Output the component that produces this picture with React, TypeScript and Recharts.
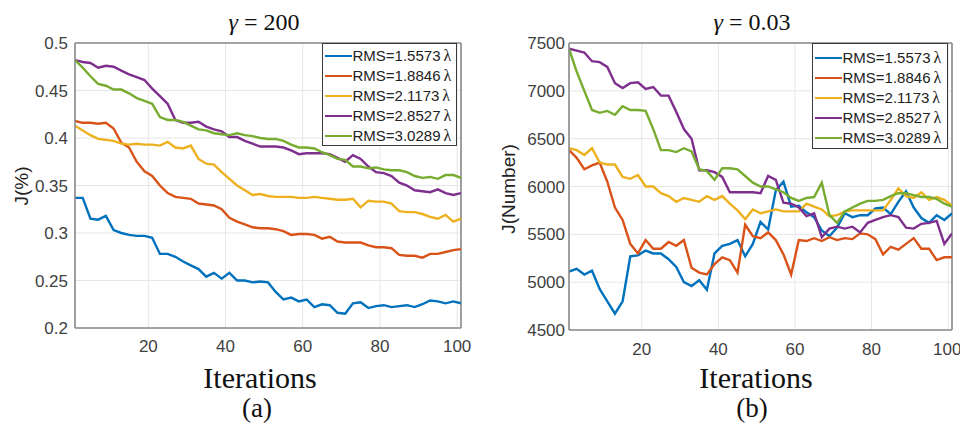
import React from 'react';
import { LineChart, Line, XAxis, YAxis, CartesianGrid, ReferenceLine, Legend } from 'recharts';

// ---- shared ----
const iterations = [1, 3, 5, 7, 9, 11, 13, 15, 17, 19, 21, 23, 25, 27, 29, 31, 33, 35, 37, 39, 41, 43, 45, 47, 49, 51, 53, 55, 57, 59, 61, 63, 65, 67, 69, 71, 73, 75, 77, 79, 81, 83, 85, 87, 89, 91, 93, 95, 97, 99, 101];
const xTicks = [20, 40, 60, 80, 100];
const seriesNames = ['RMS=1.5573', 'RMS=1.8846', 'RMS=2.1173', 'RMS=2.8527', 'RMS=3.0289'];
const seriesColors = ['#0072BD', '#D95319', '#EDB120', '#7E2F8E', '#77AC30'];

// ---- (a) gamma = 200, J(%) ----
const aTicks = [0.2, 0.25, 0.3, 0.35, 0.4, 0.45, 0.5];
const aRms1 = [0.337, 0.337, 0.315, 0.314, 0.318, 0.303, 0.300, 0.298, 0.297, 0.297, 0.295, 0.278, 0.278, 0.275, 0.270, 0.266, 0.262, 0.254, 0.258, 0.252, 0.258, 0.250, 0.250, 0.248, 0.249, 0.248, 0.238, 0.230, 0.232, 0.228, 0.230, 0.222, 0.225, 0.224, 0.216, 0.215, 0.226, 0.227, 0.221, 0.223, 0.224, 0.222, 0.223, 0.224, 0.222, 0.225, 0.229, 0.228, 0.226, 0.228, 0.226];
const aRms2 = [0.418, 0.416, 0.416, 0.415, 0.416, 0.410, 0.395, 0.390, 0.375, 0.365, 0.360, 0.350, 0.342, 0.338, 0.337, 0.336, 0.331, 0.330, 0.329, 0.325, 0.316, 0.312, 0.309, 0.306, 0.305, 0.305, 0.304, 0.302, 0.298, 0.299, 0.299, 0.298, 0.294, 0.296, 0.291, 0.290, 0.290, 0.290, 0.287, 0.285, 0.285, 0.284, 0.277, 0.276, 0.276, 0.274, 0.278, 0.278, 0.280, 0.282, 0.283];
const aRms3 = [0.413, 0.408, 0.403, 0.399, 0.398, 0.397, 0.394, 0.393, 0.394, 0.393, 0.393, 0.392, 0.396, 0.390, 0.389, 0.392, 0.378, 0.373, 0.372, 0.364, 0.357, 0.350, 0.345, 0.340, 0.341, 0.339, 0.338, 0.338, 0.338, 0.337, 0.337, 0.338, 0.337, 0.336, 0.335, 0.335, 0.336, 0.327, 0.334, 0.333, 0.333, 0.331, 0.323, 0.322, 0.322, 0.320, 0.317, 0.315, 0.319, 0.312, 0.315];
const aRms4 = [0.482, 0.480, 0.479, 0.474, 0.476, 0.475, 0.471, 0.467, 0.464, 0.461, 0.452, 0.444, 0.436, 0.419, 0.416, 0.416, 0.417, 0.412, 0.409, 0.407, 0.401, 0.401, 0.397, 0.394, 0.391, 0.391, 0.391, 0.390, 0.387, 0.383, 0.384, 0.384, 0.384, 0.383, 0.379, 0.375, 0.382, 0.378, 0.370, 0.364, 0.363, 0.360, 0.353, 0.350, 0.345, 0.344, 0.343, 0.346, 0.342, 0.340, 0.342];
const aRms5 = [0.482, 0.474, 0.465, 0.457, 0.455, 0.451, 0.451, 0.447, 0.442, 0.439, 0.436, 0.422, 0.419, 0.419, 0.417, 0.413, 0.409, 0.408, 0.405, 0.404, 0.403, 0.405, 0.403, 0.402, 0.400, 0.399, 0.399, 0.397, 0.393, 0.390, 0.390, 0.389, 0.385, 0.382, 0.378, 0.377, 0.370, 0.370, 0.368, 0.369, 0.367, 0.366, 0.366, 0.364, 0.360, 0.358, 0.359, 0.357, 0.361, 0.361, 0.358];

// ---- (b) gamma = 0.03, J(Number) ----
const bTicks = [4500, 5000, 5500, 6000, 6500, 7000, 7500];
const bRms1 = [5110, 5140, 5080, 5120, 4930, 4800, 4670, 4800, 5270, 5280, 5330, 5300, 5300, 5240, 5160, 5000, 4960, 5020, 4920, 5300, 5380, 5400, 5440, 5270, 5400, 5630, 5550, 5960, 6050, 5790, 5800, 5730, 5680, 5540, 5480, 5570, 5720, 5680, 5700, 5700, 5770, 5780, 5710, 5840, 5950, 5780, 5670, 5620, 5700, 5650, 5720];
const bRms2 = [6380, 6300, 6180, 6220, 6250, 6050, 5780, 5650, 5400, 5300, 5440, 5350, 5350, 5420, 5380, 5440, 5150, 5100, 5080, 5190, 5260, 5230, 5100, 5600, 5480, 5460, 5520, 5440, 5290, 5080, 5440, 5430, 5460, 5430, 5470, 5440, 5460, 5450, 5510, 5500, 5450, 5290, 5370, 5340, 5400, 5460, 5350, 5350, 5230, 5260, 5260];
const bRms3 = [6400, 6380, 6330, 6400, 6250, 6230, 6230, 6100, 6080, 6120, 6000, 6000, 5930, 5900, 5840, 5880, 5860, 5840, 5900, 5860, 5900, 5820, 5750, 5660, 5760, 5720, 5740, 5760, 5740, 5740, 5740, 5820, 5790, 5760, 5690, 5700, 5740, 5750, 5750, 5750, 5750, 5750, 5860, 5980, 5900, 5880, 5940, 5860, 5890, 5860, 5800];
const bRms4 = [7440, 7420, 7400, 7310, 7300, 7250, 7080, 7030, 7080, 7090, 7020, 7040, 6950, 6950, 6780, 6600, 6500, 6170, 6170, 6150, 6100, 5940, 5940, 5940, 5940, 5930, 6110, 6070, 5830, 5820, 5780, 5690, 5720, 5470, 5560, 5580, 5560, 5580, 5520, 5620, 5650, 5680, 5700, 5680, 5570, 5560, 5610, 5620, 5640, 5400, 5510];
const bRms5 = [7440, 7200, 7000, 6800, 6770, 6790, 6750, 6840, 6800, 6800, 6790, 6600, 6380, 6380, 6360, 6400, 6366, 6180, 6160, 6070, 6190, 6190, 6180, 6110, 6040, 6000, 6000, 5970, 5940, 5880, 5850, 5880, 5890, 6040, 5700, 5620, 5740, 5780, 5820, 5850, 5850, 5860, 5900, 5930, 5930, 5910, 5890, 5890, 5870, 5820, 5790];

const buildRows = (series: number[][]) =>
  iterations.map((it, i) => {
    const row: Record<string, number> = { it };
    series.forEach((s, k) => {
      row['s' + k] = s[i];
    });
    return row;
  });

const rowsA = buildRows([aRms1, aRms2, aRms3, aRms4, aRms5]);
const rowsB = buildRows([bRms1, bRms2, bRms3, bRms4, bRms5]);

const SANS = "'Liberation Sans', Arial, sans-serif";
const SERIF = "'Liberation Serif', 'Times New Roman', serif";
const FRAME = '#8a8a8a';

const LegendBox = ({ w, h, padTop }: { w: number; h: number; padTop: number }) => (
  <div
    style={{
      width: w,
      height: h,
      boxSizing: 'border-box',
      border: '1.5px solid #3a3a3a',
      background: '#fff',
      paddingTop: padTop,
    }}
  >
    {seriesNames.map((n, i) => (
      <div key={n} style={{ display: 'flex', alignItems: 'center', height: 20 }}>
        <div style={{ width: 27, height: 2.4, background: seriesColors[i], marginLeft: 1.5 }} />
        <span style={{ marginLeft: 1, fontFamily: SANS, fontSize: 15, color: '#222', whiteSpace: 'nowrap', lineHeight: '20px' }}>
          {n}
          <span style={{ fontFamily: SERIF, fontSize: 16, marginLeft: 3 }}>λ</span>
        </span>
      </div>
    ))}
  </div>
);

type PanelProps = {
  left: number;
  rows: Record<string, number>[];
  yDomain: [number, number];
  yTicks: number[];
  yW: number;
  rightMargin: number;
  xH: number;
  yTickMargin: number;
  xTickMargin: number;
  title: string;
  titleX: number;
  xLabelX: number;
  sub: string;
  subX: number;
  yLabel: string;
  yLabelX: number;
  yLabelY: number;
  yLabelSize: number;
  legend: { x: number; y: number; w: number; h: number; padTop: number };
};

const Panel = (p: PanelProps) => (
  <div style={{ position: 'absolute', left: p.left, top: 0, width: 480, height: 429 }}>
    <LineChart width={480} height={429} data={p.rows} margin={{ top: 43, right: p.rightMargin, bottom: 0, left: 0 }}>
      <CartesianGrid stroke="#e6e6e6" strokeWidth={1} />
      <XAxis
        dataKey="it"
        type="number"
        domain={[1, 101]}
        ticks={xTicks}
        height={p.xH}
        allowDataOverflow
        axisLine={{ stroke: FRAME, strokeWidth: 1.6 }}
        tickLine={false}
        tickSize={0}
        tickMargin={p.xTickMargin}
        tick={{ fill: '#3f3f3f', fontSize: 17, fontFamily: SANS }}
      />
      <YAxis
        type="number"
        domain={p.yDomain}
        ticks={p.yTicks}
        width={p.yW}
        allowDataOverflow
        axisLine={{ stroke: FRAME, strokeWidth: 1.6 }}
        tickLine={false}
        tickSize={0}
        tickMargin={p.yTickMargin}
        tick={{ fill: '#3f3f3f', fontSize: 17, fontFamily: SANS }}
      />
      <ReferenceLine y={p.yDomain[1]} stroke={FRAME} strokeWidth={1.6} />
      <ReferenceLine x={101} stroke={FRAME} strokeWidth={1.6} />
      {seriesNames.map((n, k) => (
        <Line
          key={n}
          dataKey={'s' + k}
          name={n}
          type="linear"
          stroke={seriesColors[k]}
          strokeWidth={2.4}
          dot={false}
          activeDot={false}
          isAnimationActive={false}
        />
      ))}
      <Legend
        layout="vertical"
        align="center"
        verticalAlign="middle"
        content={() => <LegendBox w={p.legend.w} h={p.legend.h} padTop={p.legend.padTop} />}
        wrapperStyle={{ left: p.legend.x, top: p.legend.y, width: p.legend.w, height: p.legend.h }}
      />
    </LineChart>
    <svg width={480} height={429} style={{ position: 'absolute', left: 0, top: 0, pointerEvents: 'none' }}>
      <text x={p.titleX} y={30} textAnchor="middle" fontFamily={SERIF} fontSize={24} fill="#111">
        <tspan fontStyle="italic">γ</tspan>
        <tspan> = {p.title}</tspan>
      </text>
      <text x={p.xLabelX} y={387.5} textAnchor="middle" fontFamily={SERIF} fontSize={30} fill="#111">
        Iterations
      </text>
      <text x={p.subX} y={417} textAnchor="middle" fontFamily={SERIF} fontSize={27} fill="#111">
        {p.sub}
      </text>
      <text
        transform={`translate(${p.yLabelX},${p.yLabelY}) rotate(-90)`}
        textAnchor="middle"
        fontFamily={SANS}
        fontSize={p.yLabelSize}
        fill="#222"
      >
        {p.yLabel}
      </text>
    </svg>
  </div>
);

export default function App() {
  return (
    <div style={{ position: 'absolute', left: 0, top: 0, width: 960, height: 429, background: '#fff', overflow: 'hidden' }}>
      <Panel
        left={0}
        rows={rowsA}
        yDomain={[0.2, 0.5]}
        yTicks={aTicks}
        yW={75}
        rightMargin={19}
        xH={101}
        yTickMargin={7}
        xTickMargin={12}
        title="200"
        titleX={264}
        xLabelX={260}
        sub="(a)"
        subX={257}
        yLabel="J(%)"
        yLabelX={28}
        yLabelY={186}
        yLabelSize={19}
        legend={{ x: 322, y: 43, w: 135, h: 103, padTop: 2 }}
      />
      <Panel
        left={480}
        rows={rowsB}
        yDomain={[4500, 7500]}
        yTicks={bTicks}
        yW={89}
        rightMargin={8}
        xH={99}
        yTickMargin={4}
        xTickMargin={13}
        title="0.03"
        titleX={272}
        xLabelX={276}
        sub="(b)"
        subX={272}
        yLabel="J(Number)"
        yLabelX={35}
        yLabelY={189}
        yLabelSize={19}
        legend={{ x: 332, y: 43, w: 136, h: 106, padTop: 4 }}
      />
    </div>
  );
}
